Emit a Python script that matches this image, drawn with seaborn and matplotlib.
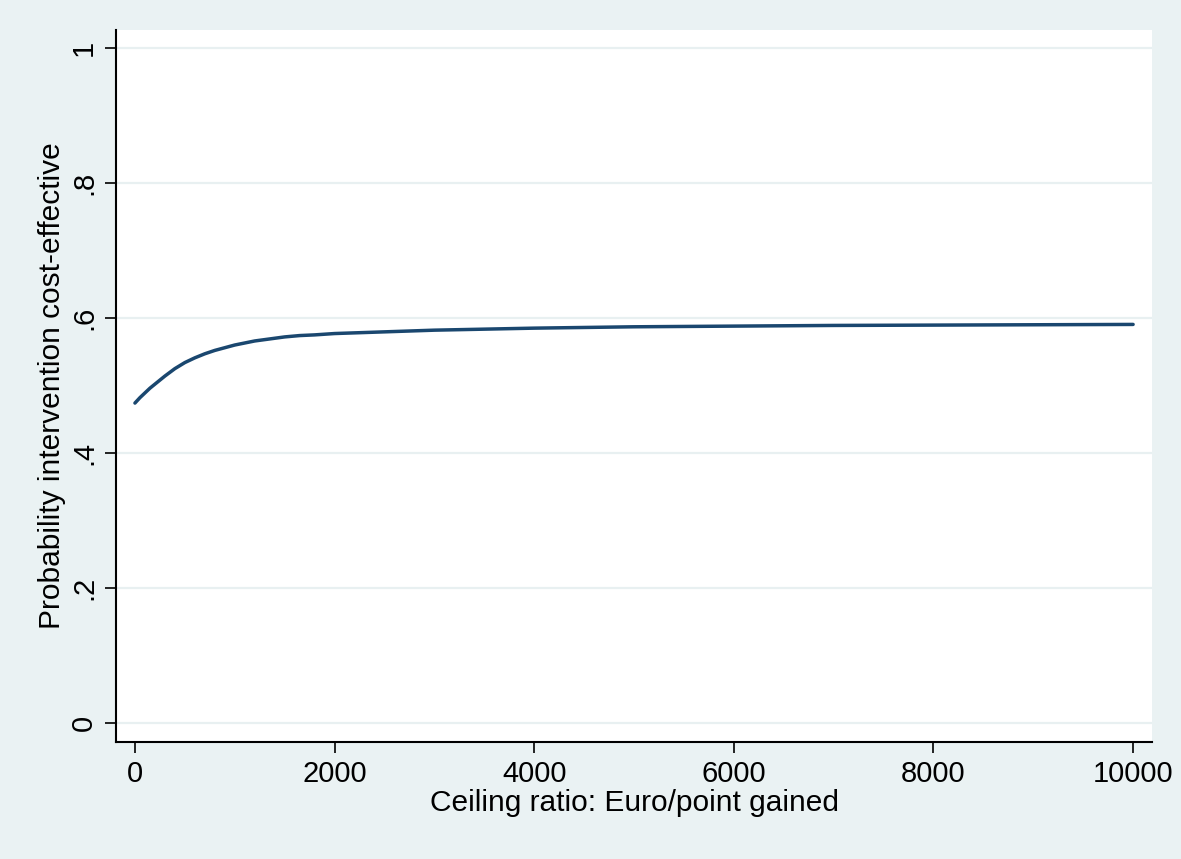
import pandas as pd
import matplotlib
matplotlib.use("Agg")
import matplotlib.pyplot as plt
import seaborn as sns

# Ceiling ratio (Euro/point gained) and probability
ceiling = [0, 50, 100, 150, 200, 250, 300, 400, 500, 600, 700, 800, 900,
           1000, 1100, 1200, 1350, 1500, 1650, 1800, 2000, 2200, 2600,
           3000, 4000, 5000, 6000, 7000, 8000, 9000, 10000]
prob = [0.474, 0.482, 0.489, 0.496, 0.502, 0.508, 0.514, 0.525, 0.534,
        0.541, 0.547, 0.552, 0.556, 0.560, 0.563, 0.566, 0.569, 0.572,
        0.574, 0.575, 0.577, 0.578, 0.580, 0.582, 0.585, 0.587, 0.588,
        0.589, 0.5895, 0.590, 0.5905]

x_ticks = [0, 2000, 4000, 6000, 8000, 10000]
x_labels = ["0", "2000", "4000", "6000", "8000", "10000"]
y_ticks = [0, 0.2, 0.4, 0.6, 0.8, 1.0]
y_labels = ["0", ".2", ".4", ".6", ".8", "1"]

BG = "#eaf2f3"
LINE = "#1a476f"

sns.set_style("white")
plt.rcParams["font.family"] = ["Liberation Sans", "DejaVu Sans"]
plt.rcParams["text.color"] = "black"
plt.rcParams["axes.labelcolor"] = "black"
plt.rcParams["xtick.color"] = "black"
plt.rcParams["ytick.color"] = "black"

df = pd.DataFrame({"ceiling": ceiling, "prob": prob})

fig = plt.figure(figsize=(11.81, 8.59), dpi=100, facecolor=BG)
ax = fig.add_axes([0.0982, 0.1362, 0.8773, 0.8289])
ax.set_facecolor("white")

sns.lineplot(data=df, x="ceiling", y="prob", ax=ax, color=LINE,
             linewidth=2.5, estimator=None, sort=False)

ax.set_xlim(-190, 10190)
ax.set_ylim(-0.0281, 1.0267)

for y in y_ticks:
    ax.axhline(y, color="#e8f0f1", linewidth=1.6, zorder=0)

ax.set_xticks(x_ticks)
ax.set_xticklabels(x_labels)
ax.set_yticks(y_ticks)
ax.set_yticklabels(y_labels, rotation=90, va="center")

ax.tick_params(axis="both", labelsize=21, length=8, width=1.2,
               direction="out", colors="black", pad=5)
ax.tick_params(axis="x", bottom=True)
ax.tick_params(axis="y", left=True)

for side in ["top", "right"]:
    ax.spines[side].set_visible(False)
for side in ["left", "bottom"]:
    ax.spines[side].set_color("black")
    ax.spines[side].set_linewidth(1.5)

ax.set_xlabel("Ceiling ratio: Euro/point gained", fontsize=21.5,
              labelpad=1, color="black")
ax.set_ylabel("Probability intervention cost-effective", fontsize=21.5,
              labelpad=3, color="black")

fig.savefig("out.png", dpi=100, facecolor=BG)
